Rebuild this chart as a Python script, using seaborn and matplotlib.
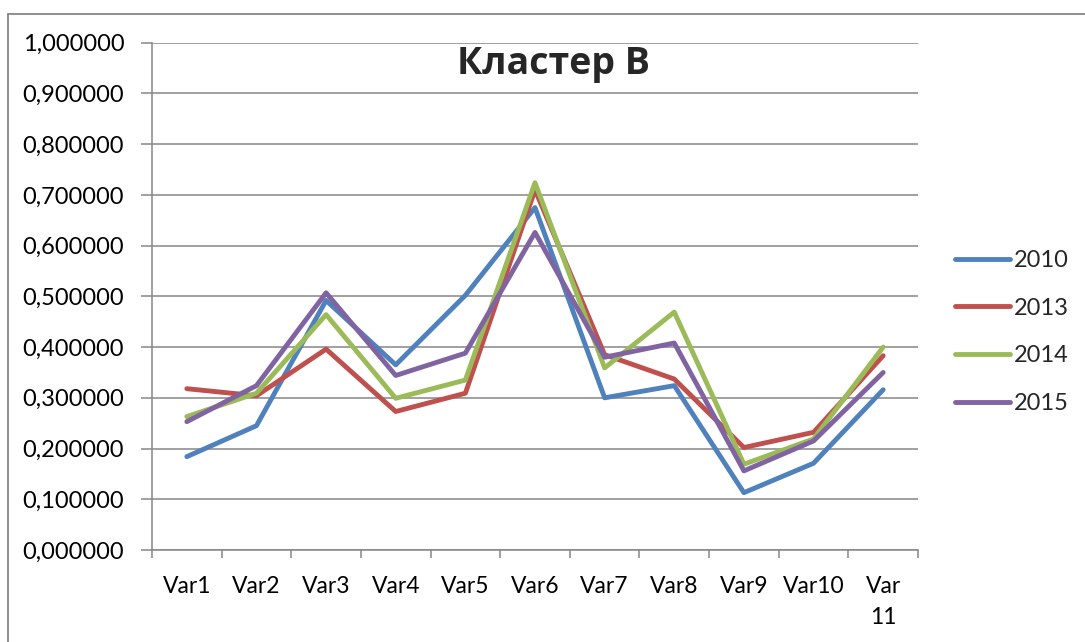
import numpy as np
import pandas as pd
import matplotlib
matplotlib.use("Agg")
import matplotlib.pyplot as plt
from matplotlib.lines import Line2D
from matplotlib.ticker import FuncFormatter, FixedLocator
import seaborn as sns

categories = ["Var1", "Var2", "Var3", "Var4", "Var5", "Var6", "Var7", "Var8", "Var9", "Var10", "Var11"]
tick_labels = ["Var1", "Var2", "Var3", "Var4", "Var5", "Var6", "Var7", "Var8", "Var9", "Var10", "Var\n11"]
years = ["2010", "2013", "2014", "2015"]
v2010 = [0.184, 0.245, 0.492, 0.365, 0.502, 0.675, 0.300, 0.324, 0.113, 0.171, 0.316]
v2013 = [0.318, 0.304, 0.396, 0.273, 0.309, 0.710, 0.385, 0.337, 0.202, 0.232, 0.383]
v2014 = [0.263, 0.309, 0.464, 0.299, 0.335, 0.724, 0.359, 0.469, 0.169, 0.219, 0.400]
v2015 = [0.253, 0.324, 0.507, 0.344, 0.388, 0.626, 0.380, 0.408, 0.156, 0.215, 0.350]
colors = {"2010": "#4F81BD", "2013": "#C0504D", "2014": "#9BBB59", "2015": "#8064A2"}

df = pd.DataFrame({
    "cat": categories * 4,
    "value": v2010 + v2013 + v2014 + v2015,
    "year": sum([[y] * len(categories) for y in years], []),
})

sns.set_style("white")
plt.rcParams["font.family"] = ["Lato", "DejaVu Sans"]

fig = plt.figure(figsize=(10.85, 6.42), dpi=100)
ax = fig.add_axes([152 / 1085, 1 - 550 / 642, (918 - 152) / 1085, (550 - 42.7) / 642])

lw = 3.5
sns.lineplot(data=df, x="cat", y="value", hue="year", palette=colors,
             linewidth=lw, sort=False, ax=ax, legend=False)

grid_c = "#868686"
ax.set_xlim(-0.5, len(categories) - 0.5)
ax.set_ylim(0, 1.0)
ax.set_yticks(np.arange(0, 1.0001, 0.1))
ax.yaxis.set_major_formatter(FuncFormatter(lambda v, p: f"{v:.6f}".replace(".", ",")))
ax.grid(axis="y", color=grid_c, linewidth=1.1)
ax.grid(axis="x", visible=False)
ax.set_axisbelow(True)

ax.set_xticks(range(len(categories)))
ax.set_xticklabels(tick_labels, linespacing=1.55)
ax.xaxis.set_minor_locator(FixedLocator(np.arange(-0.5, len(categories), 1.0)))
ax.tick_params(axis="x", which="major", length=0, pad=19, labelsize=16.5, labelcolor="black")
ax.tick_params(axis="x", which="minor", length=6, width=1.1, color=grid_c, direction="out", bottom=True)
for lbl in ax.get_xticklabels():
    lbl.set_verticalalignment("top")
ax.tick_params(axis="y", which="major", length=8, width=1.1, color=grid_c, direction="out",
               pad=12, labelsize=17, labelcolor="black", left=True)

for side in ["top", "right"]:
    ax.spines[side].set_visible(False)
for side in ["left", "bottom"]:
    ax.spines[side].set_visible(True)
    ax.spines[side].set_color(grid_c)
    ax.spines[side].set_linewidth(1.1)

ax.set_xlabel("")
ax.set_ylabel("")

fig.text(553.5 / 1085, 1 - 64 / 642, "Кластер В", ha="center", va="center",
         fontsize=27, fontweight="bold", family=["Open Sans", "DejaVu Sans"])

handles = [Line2D([0], [0], color=colors[y], linewidth=lw) for y in years]
fig.legend(handles, years, loc="upper left", bbox_to_anchor=(955 / 1085, 1 - 250 / 642),
           frameon=False, fontsize=17, handlelength=2.35, handletextpad=0.15,
           labelspacing=1.13, borderpad=0, borderaxespad=0)

# outer chart border (top and left edges visible)
fig.add_artist(Line2D([8 / 1085, 1.0], [1 - 14 / 642, 1 - 14 / 642], color=grid_c, linewidth=1.3,
                      transform=fig.transFigure))
fig.add_artist(Line2D([8 / 1085, 8 / 1085], [0.0, 1 - 14 / 642], color=grid_c, linewidth=1.3,
                      transform=fig.transFigure))

fig.savefig("out.png", dpi=100)
